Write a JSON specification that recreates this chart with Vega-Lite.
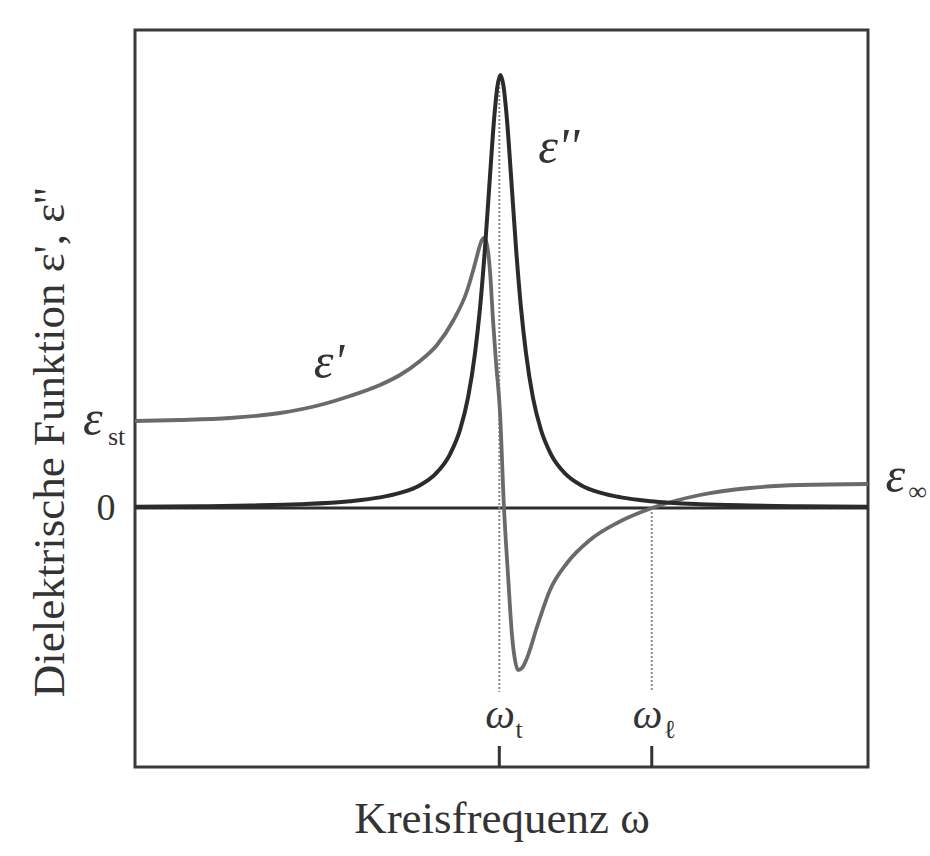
{
  "$schema": "https://vega.github.io/schema/vega-lite/v6.json",
  "width": 733,
  "height": 737,
  "autosize": {"type": "none"},
  "padding": {"left": 135, "top": 30, "right": 62, "bottom": 89},
  "background": "white",
  "config": {"view": {"stroke": "#3a3a3a", "strokeWidth": 3}, "font": "Liberation Serif"},
  "datasets": {
    "eps1": [
      {"x": 0, "y": 8.7}, {"x": 0.614, "y": 8.8}, {"x": 1.296, "y": 9.0}, {"x": 1.978, "y": 9.5},
      {"x": 2.524, "y": 10.3}, {"x": 2.933, "y": 11.2}, {"x": 3.342, "y": 12.3}, {"x": 3.615, "y": 13.3},
      {"x": 3.888, "y": 14.7}, {"x": 4.120, "y": 16.3}, {"x": 4.338, "y": 18.7}, {"x": 4.529, "y": 21.7},
      {"x": 4.611, "y": 23.7}, {"x": 4.666, "y": 25.2}, {"x": 4.707, "y": 26.3}, {"x": 4.734, "y": 26.8},
      {"x": 4.761, "y": 27.0}, {"x": 4.789, "y": 26.7}, {"x": 4.816, "y": 25.7}, {"x": 4.843, "y": 23.7},
      {"x": 4.884, "y": 18.8}, {"x": 4.925, "y": 14.6}, {"x": 4.980, "y": 9.5}, {"x": 5.034, "y": 0},
      {"x": 5.089, "y": -6.7}, {"x": 5.143, "y": -12.7}, {"x": 5.184, "y": -15.2}, {"x": 5.225, "y": -16.2},
      {"x": 5.280, "y": -16.0}, {"x": 5.348, "y": -15.0}, {"x": 5.484, "y": -11.9}, {"x": 5.662, "y": -8.2},
      {"x": 5.894, "y": -5.5}, {"x": 6.207, "y": -3.2}, {"x": 6.576, "y": -1.5}, {"x": 7.053, "y": 0},
      {"x": 7.708, "y": 1.3}, {"x": 8.390, "y": 2.0}, {"x": 9.072, "y": 2.3}, {"x": 10.0, "y": 2.4}
    ],
    "eps2": [
      {"x": 0, "y": 0.12}, {"x": 0.887, "y": 0.17}, {"x": 1.569, "y": 0.25}, {"x": 2.251, "y": 0.38},
      {"x": 2.933, "y": 0.68}, {"x": 3.342, "y": 1.06}, {"x": 3.615, "y": 1.51}, {"x": 3.888, "y": 2.28},
      {"x": 4.093, "y": 3.36}, {"x": 4.297, "y": 5.37}, {"x": 4.434, "y": 7.81}, {"x": 4.543, "y": 11.03},
      {"x": 4.638, "y": 15.46}, {"x": 4.707, "y": 20.0}, {"x": 4.775, "y": 26.0}, {"x": 4.843, "y": 33.2},
      {"x": 4.898, "y": 38.8}, {"x": 4.945, "y": 42.2}, {"x": 4.986, "y": 43.3}, {"x": 5.027, "y": 42.2},
      {"x": 5.075, "y": 38.8}, {"x": 5.130, "y": 33.2}, {"x": 5.198, "y": 26.0}, {"x": 5.266, "y": 20.0},
      {"x": 5.334, "y": 15.5}, {"x": 5.430, "y": 11.0}, {"x": 5.539, "y": 7.8}, {"x": 5.675, "y": 5.37},
      {"x": 5.880, "y": 3.36}, {"x": 6.085, "y": 2.28}, {"x": 6.357, "y": 1.51}, {"x": 6.630, "y": 1.06},
      {"x": 7.040, "y": 0.68}, {"x": 7.708, "y": 0.38}, {"x": 8.390, "y": 0.25}, {"x": 9.072, "y": 0.17},
      {"x": 10.0, "y": 0.12}
    ],
    "eps": [
      {"label": "ε'", "x": 2.44, "y": 13.0},
      {"label": "ε''", "x": 5.50, "y": 34.5},
      {"label": "ε", "x": -0.71, "y": 7.3},
      {"label": "ε", "x": 10.24, "y": 1.6}
    ],
    "omg": [
      {"label": "ω", "x": 4.78, "y": -22.0},
      {"label": "ω", "x": 6.79, "y": -22.0}
    ],
    "sub": [
      {"label": "t", "x": 5.19, "y": -23.0},
      {"label": "ℓ", "x": 7.21, "y": -23.0},
      {"label": "st", "x": -0.37, "y": 6.3},
      {"label": "∞", "x": 10.55, "y": 0.8}
    ]
  },
  "layer": [
    {
      "data": {"values": [{"xa": 0, "xb": 10, "y": 0}]},
      "mark": {"type": "rule", "color": "#2e2e2e", "strokeWidth": 3},
      "encoding": {
        "x": {"field": "xa", "type": "quantitative",
          "scale": {"domain": [0, 10], "nice": false, "zero": false},
          "axis": {"title": "Kreisfrequenz  ω", "labels": false, "ticks": false, "domain": false, "grid": false,
            "titleFont": "Liberation Serif", "titleFontSize": 45, "titleFontWeight": "normal", "titleColor": "#333333",
            "titleBaseline": "alphabetic", "titleY": 65}},
        "x2": {"field": "xb"},
        "y": {"field": "y", "type": "quantitative",
          "scale": {"domain": [-25.9, 47.8], "nice": false, "zero": false},
          "axis": {"values": [0], "labelFont": "Liberation Serif", "labelFontSize": 38, "labelColor": "#333333",
            "labelPadding": 20, "ticks": false, "domain": false, "grid": false,
            "title": "Dielektrische Funktion  ε', ε''", "titleFont": "Liberation Serif", "titleFontSize": 45,
            "titleFontWeight": "normal", "titleColor": "#333333", "titleAngle": 270, "titleAlign": "center",
            "titleBaseline": "alphabetic", "titleX": -72, "titleY": 412}}
      }
    },
    {
      "data": {"values": [{"x": 4.97, "ya": 43.3, "yb": -18.4}, {"x": 7.05, "ya": 0, "yb": -18.4}]},
      "mark": {"type": "rule", "color": "#8a8a8a", "strokeWidth": 2, "strokeDash": [2, 2]},
      "encoding": {"x": {"field": "x", "type": "quantitative"}, "y": {"field": "ya", "type": "quantitative"}, "y2": {"field": "yb"}}
    },
    {
      "data": {"values": [{"x": 4.97, "ya": -25.9, "yb": -23.8}, {"x": 7.05, "ya": -25.9, "yb": -23.8}]},
      "mark": {"type": "rule", "color": "#333333", "strokeWidth": 3},
      "encoding": {"x": {"field": "x", "type": "quantitative"}, "y": {"field": "ya", "type": "quantitative"}, "y2": {"field": "yb"}}
    },
    {
      "data": {"name": "eps1"},
      "mark": {"type": "line", "color": "#6a6a6a", "strokeWidth": 3.8, "interpolate": "monotone"},
      "encoding": {"x": {"field": "x", "type": "quantitative"}, "y": {"field": "y", "type": "quantitative"}}
    },
    {
      "data": {"name": "eps2"},
      "mark": {"type": "line", "color": "#2b2b2b", "strokeWidth": 4, "interpolate": "monotone"},
      "encoding": {"x": {"field": "x", "type": "quantitative"}, "y": {"field": "y", "type": "quantitative"}}
    },
    {
      "data": {"name": "eps"},
      "mark": {"type": "text", "font": "Liberation Serif", "fontStyle": "italic", "fontSize": 50, "color": "#333333", "align": "left", "baseline": "alphabetic"},
      "encoding": {"x": {"field": "x", "type": "quantitative"}, "y": {"field": "y", "type": "quantitative"}, "text": {"field": "label"}}
    },
    {
      "data": {"name": "omg"},
      "mark": {"type": "text", "font": "Liberation Serif", "fontStyle": "italic", "fontSize": 42, "color": "#333333", "align": "left", "baseline": "alphabetic"},
      "encoding": {"x": {"field": "x", "type": "quantitative"}, "y": {"field": "y", "type": "quantitative"}, "text": {"field": "label"}}
    },
    {
      "data": {"name": "sub"},
      "mark": {"type": "text", "font": "Liberation Serif", "fontSize": 26, "color": "#333333", "align": "left", "baseline": "alphabetic"},
      "encoding": {"x": {"field": "x", "type": "quantitative"}, "y": {"field": "y", "type": "quantitative"}, "text": {"field": "label"}}
    }
  ]
}
